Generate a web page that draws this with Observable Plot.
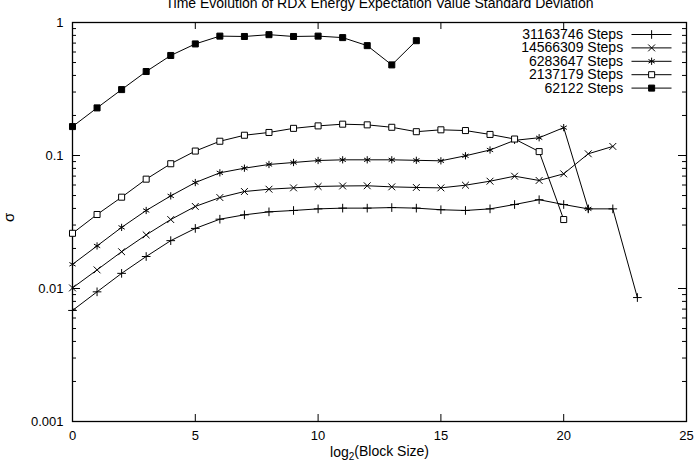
<!DOCTYPE html>
<html>
<head>
<meta charset="utf-8">
<script src="https://cdn.jsdelivr.net/npm/d3@7"></script>
<script src="https://cdn.jsdelivr.net/npm/@observablehq/plot@0.6"></script>
<style>
  html, body { margin: 0; padding: 0; background: #fff; }
  #chart { width: 696px; height: 466px; }
</style>
</head>
<body>
<div id="chart"></div>
<script>
// ---- data (log2 block size index, sigma values) ----
const blockLog2 = d3.range(0, 24);
const seriesLabels = ["31163746 Steps", "14566309 Steps", "6283647 Steps", "2137179 Steps", "62122 Steps"];
const s31163746 = [0.00684,0.00944,0.0130,0.0174,0.0229,0.0283,0.0332,0.0358,0.0377,0.0386,0.0397,0.0402,0.0402,0.0406,0.0402,0.0391,0.0386,0.0397,0.0428,0.0465,0.0428,0.0397,0.0397,0.00855];
const s14566309 = [0.0101,0.0138,0.0189,0.0253,0.0330,0.0414,0.0483,0.0536,0.0558,0.0571,0.0585,0.0590,0.0592,0.0581,0.0575,0.0571,0.0598,0.0641,0.0699,0.0649,0.0728,0.103,0.117];
const s6283647 = [0.0152,0.0209,0.0288,0.0386,0.0497,0.0626,0.0741,0.0803,0.0856,0.0886,0.0917,0.0928,0.0928,0.0928,0.0920,0.0912,0.0995,0.110,0.130,0.136,0.162,0.0397];
const s2137179 = [0.026,0.036,0.0486,0.0664,0.0867,0.108,0.128,0.142,0.149,0.160,0.167,0.172,0.170,0.163,0.151,0.156,0.154,0.144,0.133,0.107,0.033];
const s62122 = [0.165,0.228,0.313,0.428,0.565,0.69,0.79,0.785,0.81,0.785,0.79,0.77,0.67,0.48,0.73];
const xTicks = [0, 5, 10, 15, 20, 25];
const yTicks = [0.001, 0.01, 0.1, 1];
const yTickLabels = ["0.001", "0.01", "0.1", "1"];
const title = "Time Evolution of RDX Energy Expectation Value Standard Deviation";
const xLabel = "log2(Block Size)";
const yLabel = "σ";

// ---- styles ----
const symbols = ["plus", "times", "asterisk", "square", "square"];
const fills = ["none", "none", "none", "white", "black"];
const sizes = [2.9, 3.2, 3.4, 3.4, 3.4];
const seriesValues = [s31163746, s14566309, s6283647, s2137179, s62122];

const W = 696, H = 466;
const mL = 72, mR = 10, mT = 22, mB = 45;
const plotW = W - mL - mR, plotH = H - mT - mB;

const rows = [];
seriesValues.forEach((vals, i) => vals.forEach((v, j) => rows.push({series: seriesLabels[i], idx: i, x: blockLog2[j], y: v})));

const minorY = [];
[0.001, 0.01, 0.1].forEach(d => { for (let k = 2; k <= 9; k++) minorY.push(d * k); });

// legend placement (in data space)
const legY = i => Math.pow(10, -(12 + 13.4 * i) / (plotH / 3));
const legend = seriesLabels.map((s, i) => ({series: s, idx: i, y: legY(i)}));

const marks = [
  Plot.frame({stroke: "black", strokeWidth: 1.3}),
  // y ticks (inward, both sides)
  Plot.tickY(yTicks, {y: d => d, insetRight: plotW - 8, stroke: "black"}),
  Plot.tickY(yTicks, {y: d => d, insetLeft: plotW - 8, stroke: "black"}),
  Plot.tickY(minorY, {y: d => d, insetRight: plotW - 4, stroke: "black"}),
  Plot.tickY(minorY, {y: d => d, insetLeft: plotW - 4, stroke: "black"}),
  // x ticks (inward, top and bottom)
  Plot.tickX(xTicks, {x: d => d, insetTop: plotH - 7, stroke: "black"}),
  Plot.tickX(xTicks, {x: d => d, insetBottom: plotH - 7, stroke: "black"}),
  Plot.axisX({ticks: xTicks, tickSize: 0, tickPadding: 9, label: null}),
  Plot.axisY({ticks: yTicks, tickSize: 0, tickPadding: 9, label: null, tickFormat: d => yTickLabels[yTicks.indexOf(d)]}),
  Plot.line(rows, {x: "x", y: "y", z: "series", stroke: "black", strokeWidth: 1}),
  ...seriesLabels.map((s, i) => Plot.dot(rows.filter(r => r.idx === i), {
    x: "x", y: "y", symbol: symbols[i], r: sizes[i],
    fill: fills[i], stroke: "black", strokeWidth: 1
  })),
  // legend
  Plot.text(legend, {x: 22.42, y: "y", text: "series", textAnchor: "end", fill: "black", fontSize: 14}),
  Plot.link(legend, {x1: 22.76, x2: 24.39, y1: "y", y2: "y", stroke: "black"}),
  ...legend.map((d, i) => Plot.dot([d], {x: 23.58, y: "y", symbol: symbols[i], r: sizes[i], fill: fills[i], stroke: "black", strokeWidth: 1})),
  // titles
  Plot.text([title], {frameAnchor: "top", dy: -19, text: d => d, lineAnchor: "middle", fill: "black", fontSize: 14}),
  Plot.text([xLabel], {frameAnchor: "bottom", dy: 31, text: d => d, lineAnchor: "middle", fill: "black", fontSize: 14}),
  Plot.text([yLabel], {frameAnchor: "left", dx: -63, text: d => d, rotate: -90, fill: "black", fontSize: 15})
];

const chart = Plot.plot({
  width: W, height: H,
  marginLeft: mL, marginRight: mR, marginTop: mT, marginBottom: mB,
  style: {fontFamily: "'Liberation Sans', Arial, Helvetica, sans-serif", fontSize: "13px", color: "black", background: "white", overflow: "visible"},
  x: {type: "linear", domain: [0, 25]},
  y: {type: "log", domain: [0.001, 1]},
  marks
});
document.getElementById("chart").appendChild(chart);

// subscript 2 in x label
d3.select(chart).selectAll("text").each(function() {
  if (this.textContent === xLabel) {
    const t = d3.select(this);
    t.text(null);
    t.append("tspan").text("log");
    t.append("tspan").attr("dy", "0.3em").attr("font-size", "10px").text("2");
    t.append("tspan").attr("dy", "-0.3em").text("(Block Size)");
  }
});
</script>
</body>
</html>
